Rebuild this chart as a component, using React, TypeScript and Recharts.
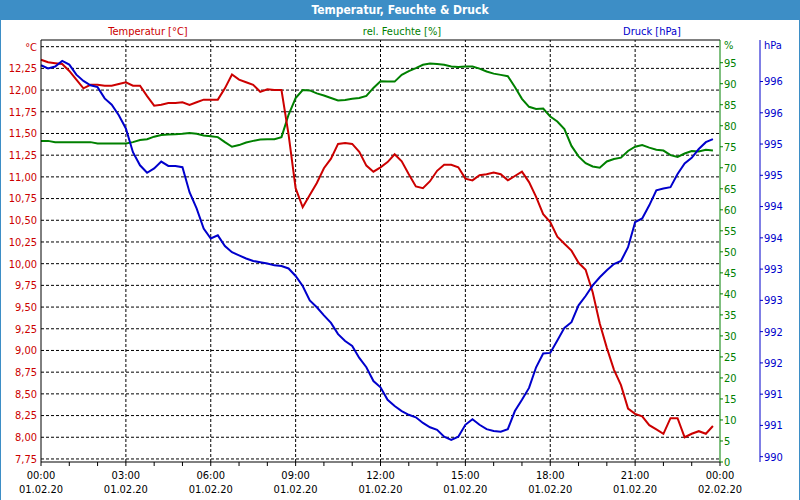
import { LineChart, Line, XAxis, YAxis, CartesianGrid, ReferenceLine } from "recharts";

// 15-minute readings from 00:00 to 23:45 on 01.02.20
const stepHours = 0.25;

const temperature = [
  12.35, 12.32, 12.31, 12.3, 12.22, 12.12, 12.02, 12.06, 12.06, 12.05, 12.05, 12.07,
  12.09, 12.05, 12.05, 11.93, 11.82, 11.83, 11.85, 11.85, 11.86, 11.83, 11.86, 11.89,
  11.89, 11.89, 12.02, 12.18, 12.12, 12.09, 12.06, 11.98, 12.01, 12.0, 12.0, 11.49,
  10.87, 10.65, 10.79, 10.93, 11.1, 11.21, 11.38, 11.39, 11.38, 11.29, 11.13, 11.06,
  11.11, 11.17, 11.26, 11.18, 11.03, 10.89, 10.87, 10.95, 11.07, 11.14, 11.14, 11.11,
  10.98, 10.96, 11.02, 11.03, 11.05, 11.03, 10.96, 11.01, 11.06, 10.94, 10.77, 10.57,
  10.48, 10.31, 10.23, 10.15, 10.01, 9.93, 9.67, 9.31, 9.03, 8.78, 8.6, 8.33,
  8.27, 8.24, 8.14, 8.09, 8.04, 8.22, 8.22, 8.0, 8.04, 8.07, 8.04, 8.13,
];

const humidity = [
  76.4, 76.4, 76.1, 76.1, 76.1, 76.1, 76.1, 76.1, 75.8, 75.8, 75.8, 75.8,
  75.8, 76.1, 76.6, 76.8, 77.4, 77.8, 77.9, 78.0, 78.1, 78.3, 78.1, 77.7,
  77.5, 77.3, 76.1, 75.0, 75.4, 76.0, 76.4, 76.7, 76.8, 76.8, 77.3, 82.6,
  86.6, 88.5, 88.4, 87.7, 87.2, 86.6, 86.0, 86.1, 86.4, 86.6, 87.1, 89.0,
  90.6, 90.5, 90.5, 92.1, 93.0, 93.7, 94.5, 94.8, 94.7, 94.5, 94.1, 94.0,
  94.1, 94.1, 93.6, 92.9, 92.4, 92.1, 91.8, 89.2, 86.4, 84.5, 84.0, 84.1,
  82.2, 81.0, 79.2, 75.2, 72.7, 71.1, 70.3, 70.0, 71.5, 72.1, 72.4, 74.0,
  75.0, 75.4, 74.8, 74.3, 74.1, 73.0, 72.6, 73.4, 74.0, 73.9, 74.3, 74.1,
];

const pressure = [
  996.26, 996.21, 996.24, 996.33, 996.27, 996.11, 996.01, 995.94, 995.91, 995.73, 995.63, 995.46,
  995.25, 994.87, 994.66, 994.54, 994.61, 994.72, 994.65, 994.65, 994.63, 994.23, 993.97, 993.65,
  993.49, 993.54, 993.37, 993.27, 993.22, 993.17, 993.13, 993.11, 993.09, 993.06, 993.05, 993.01,
  992.89, 992.73, 992.5, 992.39, 992.26, 992.14, 991.96, 991.85, 991.77, 991.58, 991.43, 991.21,
  991.11, 990.91, 990.81, 990.73, 990.67, 990.63, 990.54, 990.47, 990.43, 990.32, 990.27, 990.32,
  990.51, 990.6, 990.51, 990.44, 990.41, 990.4, 990.44, 990.73, 990.91, 991.1, 991.43, 991.65,
  991.66, 991.86, 992.06, 992.15, 992.42, 992.57, 992.74, 992.87, 992.98, 993.08, 993.13, 993.35,
  993.75, 993.81, 994.02, 994.26, 994.29, 994.31, 994.52, 994.69, 994.78, 994.92, 995.03, 995.08,
];

const hourTicks = [0, 1, 2, 3, 4, 5, 6, 7, 8, 9, 10, 11, 12, 13, 14, 15, 16, 17, 18, 19, 20, 21, 22, 23, 24];
const gridHours = [3, 6, 9, 12, 15, 18, 21];
const tempTicks = [7.75, 8, 8.25, 8.5, 8.75, 9, 9.25, 9.5, 9.75, 10, 10.25, 10.5, 10.75, 11, 11.25, 11.5, 11.75, 12, 12.25, 12.5];
const humTicks = [0, 5, 10, 15, 20, 25, 30, 35, 40, 45, 50, 55, 60, 65, 70, 75, 80, 85, 90, 95];
const pressTicks = [990, 990.5, 991, 991.5, 992, 992.5, 993, 993.5, 994, 994.5, 995, 995.5, 996];

const data = temperature.map((t, i) => ({
  h: i * stepHours,
  temp: t,
  hum: humidity[i],
  press: pressure[i],
}));

const RED = "#cc0000";
const GREEN = "#008000";
const BLUE = "#0000cc";
const BAR = "#3d8ec6";
const FONT = "'DejaVu Sans Condensed', 'DejaVu Sans', sans-serif";

const TimeTick = (props: any) => {
  const { x, y, payload } = props;
  const h = payload.value;
  const major = h % 3 === 0;
  const hh = String(h % 24).padStart(2, "0");
  const date = h === 24 ? "02.02.20" : "01.02.20";
  return (
    <g>
      <line x1={x} x2={x} y1={y} y2={y + 4} stroke="#000" />
      {major && (
        <>
          <text x={x} y={y + 13} textAnchor="middle" dominantBaseline="central" fontSize={11} fill="#000" fontFamily={FONT}>
            {hh}:00
          </text>
          <text x={x} y={y + 27} textAnchor="middle" dominantBaseline="central" fontSize={11} fill="#000" fontFamily={FONT}>
            {date}
          </text>
        </>
      )}
    </g>
  );
};

const App = () => {
  return (
    <div style={{ position: "relative", width: 800, height: 500, background: "#fff", fontFamily: FONT }}>
      <style>{"body{margin:0}"}</style>
      <div
        style={{
          position: "absolute",
          left: 0,
          top: 0,
          width: 800,
          height: 20,
          background: BAR,
          color: "#fff",
          fontWeight: "bold",
          fontSize: 12,
          lineHeight: "20px",
          textAlign: "center",
        }}
      >
        Temperatur, Feuchte &amp; Druck
      </div>
      <div style={{ position: "absolute", left: 0, top: 20, width: 1, height: 480, background: BAR }} />
      <div style={{ position: "absolute", left: 799, top: 20, width: 1, height: 480, background: BAR }} />
      <div style={{ position: "absolute", left: 148, top: 25, transform: "translateX(-50%)", fontSize: 11, color: RED, whiteSpace: "nowrap" }}>
        Temperatur [°C]
      </div>
      <div style={{ position: "absolute", left: 402, top: 25, transform: "translateX(-50%)", fontSize: 11, color: GREEN, whiteSpace: "nowrap" }}>
        rel. Feuchte [%]
      </div>
      <div style={{ position: "absolute", left: 652, top: 25, transform: "translateX(-50%)", fontSize: 11, color: BLUE, whiteSpace: "nowrap" }}>
        Druck [hPa]
      </div>
      <div style={{ position: "absolute", left: 724, top: 39, fontSize: 11, color: GREEN }}>%</div>
      <div style={{ position: "absolute", left: 764, top: 39, fontSize: 11, color: BLUE }}>hPa</div>
      <div style={{ position: "absolute", left: 0, top: 0 }}>
        <LineChart width={800} height={500} data={data} margin={{ top: 40, right: 0, bottom: 0, left: 0 }}>
          <CartesianGrid yAxisId="temp" vertical={false} stroke="#000" strokeDasharray="3 2" horizontalValues={tempTicks} />
          <XAxis
            dataKey="h"
            type="number"
            domain={[0, 24]}
            ticks={hourTicks}
            interval={0}
            height={38}
            tickSize={0}
            tickMargin={0}
            tickLine={false}
            axisLine={{ stroke: "#000" }}
            tick={<TimeTick />}
          />
          <YAxis
            yAxisId="temp"
            orientation="left"
            width={41}
            domain={[7.715, 12.577]}
            allowDataOverflow
            ticks={tempTicks}
            interval={0}
            tickLine={false}
            tickSize={0}
            tickMargin={4}
            axisLine={{ stroke: "#000" }}
            tick={{ fill: RED, fontSize: 11, fontFamily: FONT }}
            tickFormatter={(v: number) => (v === 12.5 ? "°C" : v.toFixed(2).replace(".", ","))}
          />
          <YAxis
            yAxisId="hum"
            orientation="right"
            width={40}
            domain={[0, 100.4]}
            allowDataOverflow
            ticks={humTicks}
            interval={0}
            tickSize={3}
            tickMargin={1}
            tickLine={{ stroke: GREEN }}
            axisLine={{ stroke: GREEN }}
            tick={{ fill: GREEN, fontSize: 11, fontFamily: FONT, textAnchor: "start" }}
          />
          <YAxis
            yAxisId="press"
            orientation="right"
            width={40}
            domain={[989.915, 996.664]}
            allowDataOverflow
            ticks={pressTicks}
            interval={0}
            tickSize={3}
            tickMargin={1}
            tickLine={{ stroke: BLUE }}
            axisLine={{ stroke: BLUE }}
            tick={{ fill: BLUE, fontSize: 11, fontFamily: FONT, textAnchor: "start" }}
            tickFormatter={(v: number) => String(Math.round(v))}
          />
          {gridHours.map((h) => (
            <ReferenceLine key={h} x={h} yAxisId="temp" stroke="#000" strokeDasharray="3 2" />
          ))}
          <ReferenceLine y={12.577} yAxisId="temp" stroke="#000" ifOverflow="extendDomain" />
          <Line yAxisId="hum" dataKey="hum" stroke={GREEN} strokeWidth={2} dot={false} type="linear" isAnimationActive={false} />
          <Line yAxisId="temp" dataKey="temp" stroke={RED} strokeWidth={2} dot={false} type="linear" isAnimationActive={false} />
          <Line yAxisId="press" dataKey="press" stroke={BLUE} strokeWidth={2} dot={false} type="linear" isAnimationActive={false} />
        </LineChart>
      </div>
    </div>
  );
};

export default App;
